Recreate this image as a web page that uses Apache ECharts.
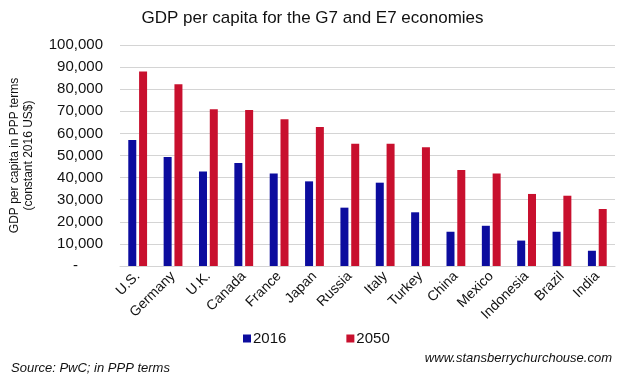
<!DOCTYPE html>
<html>
<head>
<meta charset="utf-8">
<script src="https://cdn.jsdelivr.net/npm/echarts@6/dist/echarts.min.js"></script>
<style>
html, body { margin: 0; padding: 0; background: #fff; }
#chart { width: 625px; height: 376px; }
</style>
</head>
<body>
<div id="chart"></div>
<script>
var countries = ['U.S.', 'Germany', 'U.K.', 'Canada', 'France', 'Japan', 'Russia', 'Italy', 'Turkey', 'China', 'Mexico', 'Indonesia', 'Brazil', 'India'];
var gdp2016 = [57000, 49300, 42800, 46600, 41900, 38300, 26400, 37700, 24300, 15500, 18200, 11500, 15500, 6900];
var gdp2050 = [88000, 82200, 70900, 70600, 66400, 62900, 55300, 55300, 53700, 43400, 41900, 32600, 31800, 25800];

var chart = echarts.init(document.getElementById('chart'));
var font = 'Liberation Sans, Arial, sans-serif';

chart.setOption({
  animation: false,
  textStyle: { fontFamily: font },
  title: [
    {
      text: 'GDP per capita for the G7 and E7 economies',
      left: 'center',
      top: 5,
      textStyle: { fontSize: 17, fontWeight: 'normal', color: '#111', fontFamily: font }
    },
    {
      text: 'Source: PwC; in PPP terms',
      left: 6,
      top: 357,
      textStyle: { fontSize: 13, fontWeight: 'normal', fontStyle: 'italic', color: '#111', fontFamily: font }
    },
    {
      text: 'www.stansberrychurchouse.com',
      right: 8,
      top: 347,
      textStyle: { fontSize: 13, fontWeight: 'normal', fontStyle: 'italic', color: '#111', fontFamily: font }
    }
  ],
  legend: {
    data: ['2016', '2050'],
    left: 238,
    top: 326,
    itemWidth: 8,
    itemHeight: 8,
    itemGap: 60,
    icon: 'rect',
    textStyle: { fontSize: 15, color: '#111', padding: [0, 0, 0, -3] }
  },
  grid: { left: 110, right: 10, top: 45, bottom: 110 },
  xAxis: {
    type: 'category',
    data: countries,
    axisLine: { lineStyle: { color: '#d4d4d4' } },
    axisTick: { show: false },
    axisLabel: { rotate: 45, fontSize: 14, color: '#111', margin: 8, interval: 0 }
  },
  yAxis: {
    type: 'value',
    min: 0,
    max: 100000,
    interval: 10000,
    name: 'GDP per capita in PPP terms\n(constant 2016 US$)',
    nameLocation: 'middle',
    nameGap: 84,
    nameMoveOverlap: false,
    nameTextStyle: { fontSize: 12, color: '#111', lineHeight: 14 },
    axisLine: { show: false },
    axisTick: { show: false },
    splitLine: { lineStyle: { color: '#d4d4d4', width: 1 } },
    axisLabel: {
      fontSize: 15,
      color: '#111',
      margin: 17,
      formatter: function (v) { return v === 0 ? '-      ' : v.toLocaleString('en-US'); }
    }
  },
  series: [
    {
      name: '2016',
      type: 'bar',
      data: gdp2016,
      barWidth: 8,
      barGap: '35%',
      itemStyle: { color: '#0c0c9e' }
    },
    {
      name: '2050',
      type: 'bar',
      data: gdp2050,
      barWidth: 8,
      itemStyle: { color: '#c8102e' }
    }
  ]
});
</script>
</body>
</html>
